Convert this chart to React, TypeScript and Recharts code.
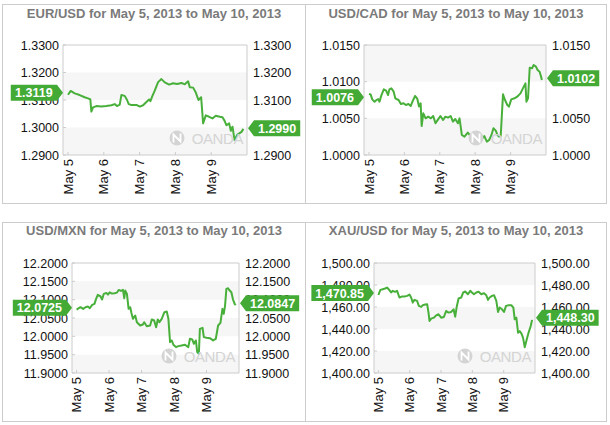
import React from 'react';
import { LineChart, Line, XAxis, YAxis, ReferenceArea, ReferenceDot } from 'recharts';

const FONT = '"Liberation Sans", Arial, Helvetica, sans-serif';
const LINE = '#48b03a';
const BADGE = '#42aa35';
const GRAY_BAND = '#f6f6f6';
const BORDER = '#cccccc';

const dayTicks = [0, 1, 2, 3, 4];
const dayLabels = ['May 5', 'May 6', 'May 7', 'May 8', 'May 9'];
const xDomain = [-0.14, 5.0];

// EUR/USD
const eurTicks = [1.29, 1.3, 1.31, 1.32, 1.33];
const eurT = [0, 0.075, 0.186, 0.326, 0.466, 0.559, 0.624, 0.652, 0.699, 0.792, 0.932, 1.072, 1.212, 1.305, 1.37, 1.445, 1.491, 1.584, 1.65, 1.696, 1.771, 1.911, 2.004, 2.097, 2.19, 2.265, 2.302, 2.358, 2.423, 2.516, 2.61, 2.703, 2.824, 2.936, 3.048, 3.169, 3.262, 3.355, 3.402, 3.495, 3.57, 3.644, 3.719, 3.774, 3.849, 3.942, 4.035, 4.128, 4.24, 4.315, 4.371, 4.427, 4.501, 4.548, 4.595, 4.651, 4.725, 4.846, 4.9];
const eurV = [1.3119, 1.3133, 1.3124, 1.3118, 1.311, 1.3106, 1.3102, 1.3058, 1.3073, 1.3078, 1.3076, 1.3078, 1.3081, 1.3085, 1.3078, 1.3083, 1.3118, 1.3115, 1.31, 1.3085, 1.3082, 1.3082, 1.3076, 1.3081, 1.3093, 1.3102, 1.3096, 1.3115, 1.3134, 1.3165, 1.3176, 1.3164, 1.3156, 1.3161, 1.3158, 1.3162, 1.3157, 1.3168, 1.3146, 1.3145, 1.3127, 1.31, 1.311, 1.3015, 1.3044, 1.3039, 1.3033, 1.3043, 1.3039, 1.3037, 1.3025, 1.3008, 1.3015, 1.2988, 1.3003, 1.2955, 1.2973, 1.2984, 1.2995];
const eurOpen = 1.3119;
const eurLast = 1.299;

// USD/CAD
const cadTicks = [1.0, 1.005, 1.01, 1.015];
const cadT = [0, 0.047, 0.093, 0.158, 0.214, 0.26, 0.298, 0.353, 0.419, 0.484, 0.54, 0.577, 0.633, 0.698, 0.744, 0.837, 0.902, 0.977, 1.042, 1.116, 1.181, 1.228, 1.302, 1.367, 1.414, 1.46, 1.488, 1.535, 1.6, 1.674, 1.749, 1.814, 1.879, 1.953, 2.019, 2.093, 2.158, 2.233, 2.307, 2.372, 2.437, 2.512, 2.558, 2.623, 2.698, 2.791, 2.884, 2.977, 3.051, 3.116, 3.181, 3.256, 3.33, 3.395, 3.46, 3.516, 3.581, 3.628, 3.674, 3.721, 3.786, 3.842, 3.907, 3.953, 4.019, 4.112, 4.186, 4.279, 4.372, 4.419, 4.447, 4.493, 4.54, 4.605, 4.651, 4.716, 4.763, 4.819, 4.856, 4.884];
const cadV = [1.00832, 1.00827, 1.00759, 1.00727, 1.0075, 1.00764, 1.00727, 1.00818, 1.00895, 1.00877, 1.00818, 1.00895, 1.00909, 1.00864, 1.00773, 1.0075, 1.00695, 1.00705, 1.00682, 1.00695, 1.00668, 1.00727, 1.00805, 1.00764, 1.0066, 1.00705, 1.00395, 1.00568, 1.005, 1.00523, 1.005, 1.00532, 1.00432, 1.00486, 1.00532, 1.00477, 1.00523, 1.00509, 1.00532, 1.00455, 1.00491, 1.00432, 1.005, 1.00273, 1.0025, 1.00305, 1.0025, 1.00273, 1.00241, 1.0025, 1.00214, 1.00259, 1.00182, 1.00205, 1.00273, 1.00364, 1.00332, 1.00273, 1.0025, 1.00259, 1.00827, 1.0075, 1.00682, 1.00659, 1.00759, 1.00773, 1.00795, 1.0084, 1.00932, 1.00977, 1.00727, 1.00773, 1.01191, 1.01182, 1.01227, 1.01205, 1.01159, 1.01136, 1.01077, 1.01023];
const cadOpen = 1.0076;
const cadLast = 1.0102;

// USD/MXN
const mxnTicks = [11.9, 11.95, 12.0, 12.05, 12.1, 12.15, 12.2];
const mxnT = [0, 0.071, 0.122, 0.204, 0.276, 0.347, 0.408, 0.48, 0.551, 0.602, 0.653, 0.735, 0.786, 0.837, 0.918, 0.969, 1.02, 1.092, 1.173, 1.245, 1.296, 1.367, 1.429, 1.469, 1.5, 1.551, 1.602, 1.653, 1.684, 1.735, 1.806, 1.857, 1.959, 2.041, 2.082, 2.163, 2.265, 2.316, 2.388, 2.449, 2.5, 2.551, 2.622, 2.704, 2.776, 2.827, 2.878, 2.929, 2.98, 3.061, 3.133, 3.235, 3.337, 3.439, 3.49, 3.561, 3.612, 3.673, 3.714, 3.765, 3.796, 3.878, 3.918, 4.0, 4.102, 4.204, 4.286, 4.357, 4.429, 4.49, 4.531, 4.571, 4.612, 4.663, 4.714, 4.765, 4.816, 4.867, 4.898];
const mxnV = [12.0731, 12.0767, 12.0794, 12.0749, 12.0794, 12.0812, 12.0767, 12.0858, 12.0885, 12.1021, 12.113, 12.1093, 12.1003, 12.1157, 12.1184, 12.1139, 12.1202, 12.1166, 12.1175, 12.1193, 12.1266, 12.1238, 12.1266, 12.1039, 12.1248, 12.1157, 12.0749, 12.0794, 12.0658, 12.0477, 12.0568, 12.0386, 12.0296, 12.0323, 12.0386, 12.0277, 12.0296, 12.0459, 12.0432, 12.025, 12.0459, 12.0386, 12.0477, 12.0658, 12.0676, 12.0477, 11.9842, 11.9888, 11.977, 11.9706, 11.9733, 11.9752, 11.977, 11.9706, 11.9933, 11.9915, 11.9797, 11.9888, 11.957, 11.9525, 12.0205, 12.0232, 11.9978, 11.996, 11.9951, 11.9888, 11.9933, 12.0296, 12.0368, 12.0749, 12.0613, 12.0839, 12.1293, 12.1311, 12.1248, 12.1202, 12.1003, 12.0885, 12.085];
const mxnOpen = 12.0725;
const mxnLast = 12.0847;

// XAU/USD
const xauTicks = [1400, 1420, 1440, 1460, 1480, 1500];
const xauT = [0, 0.064, 0.139, 0.213, 0.277, 0.352, 0.405, 0.459, 0.533, 0.597, 0.672, 0.747, 0.832, 0.917, 0.992, 1.045, 1.099, 1.152, 1.237, 1.291, 1.365, 1.419, 1.493, 1.557, 1.6, 1.632, 1.685, 1.771, 1.845, 1.92, 2.005, 2.091, 2.165, 2.24, 2.325, 2.4, 2.453, 2.496, 2.56, 2.645, 2.709, 2.773, 2.859, 2.933, 2.987, 3.051, 3.125, 3.2, 3.285, 3.371, 3.445, 3.499, 3.552, 3.627, 3.691, 3.765, 3.819, 3.872, 3.947, 4.011, 4.075, 4.16, 4.245, 4.309, 4.352, 4.405, 4.459, 4.512, 4.565, 4.619, 4.672, 4.736, 4.8, 4.864, 4.907];
const xauV = [1470.9, 1475.6, 1476.2, 1476.8, 1477.7, 1475.3, 1473.2, 1474.7, 1473.8, 1474.7, 1468.6, 1469.5, 1469.5, 1470.1, 1471.3, 1468.6, 1464.0, 1466.5, 1465.5, 1461.0, 1460.1, 1461.6, 1462.2, 1462.5, 1454.9, 1447.3, 1449.4, 1450.3, 1452.4, 1453.4, 1450.3, 1450.9, 1456.4, 1454.9, 1455.5, 1457.9, 1451.2, 1459.5, 1467.7, 1468.6, 1473.2, 1474.1, 1471.6, 1474.7, 1473.2, 1471.6, 1473.2, 1473.8, 1471.6, 1472.6, 1470.7, 1466.5, 1468.6, 1470.1, 1470.7, 1465.5, 1455.5, 1459.5, 1457.9, 1455.5, 1461.0, 1461.6, 1461.6, 1459.5, 1448.8, 1450.3, 1436.6, 1438.1, 1436.0, 1432.0, 1423.5, 1430.5, 1437.2, 1442.7, 1448.3];
const xauOpen = 1470.85;
const xauLast = 1448.3;

function fmt4(v: number) {
  return v.toFixed(4);
}
function fmtComma2(v: number) {
  const s = v.toFixed(2);
  const [i, d] = s.split('.');
  return i.replace(/\B(?=(\d{3})+(?!\d))/g, ',') + '.' + d;
}

function textW(s: string, fs: number) {
  let w = 0;
  for (const c of s) w += /[0-9]/.test(c) ? 0.556 : 0.278;
  return w * fs;
}

function Badge(props: any) {
  const { cx, cy, label, side } = props;
  if (cx == null || cy == null) return null;
  const fs = 12.5;
  const w = textW(label, fs) + 8;
  const h = 16;
  const ay = cy - 2;
  const top = ay - h / 2;
  const arrow = 6;
  let d: string;
  let tx: number;
  if (side === 'left') {
    const r = cx - arrow;
    d = `M${r - w},${top} H${r} L${cx},${ay} L${r},${top + h} H${r - w} Z`;
    tx = r - w / 2;
  } else {
    const l = cx + 1 + arrow;
    d = `M${cx + 1},${ay} L${l},${top} H${l + w} V${top + h} H${l} Z`;
    tx = l + w / 2;
  }
  return (
    <g>
      <path d={d} fill={BADGE} />
      <text x={tx} y={ay} dy="0.36em" textAnchor="middle" fill="#fff" fontFamily={FONT} fontWeight="bold" fontSize={fs}>
        {label}
      </text>
    </g>
  );
}

function Watermark(props: any) {
  const { cx, cy } = props;
  if (cx == null || cy == null) return null;
  const c = '#d4d4d4';
  const ox = cx - 70;
  const oy = cy - 17;
  return (
    <g>
      <circle cx={ox} cy={oy} r={7.5} fill={c} />
      <path d={`M${ox - 3.5},${oy + 4.5} V${oy - 3.5} L${ox + 3.5},${oy + 3.5} V${oy - 4.5}`} stroke="#fff" strokeWidth={1.8} fill="none" />
      <text x={cx - 4} y={cy - 11.5} textAnchor="end" fill={c} fontFamily={FONT} fontSize={15} letterSpacing={-0.4}>
        OANDA
      </text>
    </g>
  );
}

type Box = { l: number; t: number; w: number; h: number };
type Plot = { l: number; r: number; t: number; b: number };

function Panel(p: {
  box: Box;
  plot: Plot;
  title: string;
  titleY: number;
  ticks: number[];
  t: number[];
  v: number[];
  open: number;
  last: number;
  fmt: (v: number) => string;
}) {
  const { box, plot, title, titleY, ticks, t, v, open, last, fmt } = p;
  const data = t.map((x, i) => ({ t: x, v: v[i] }));
  const YW = 55;
  const XH = 40;
  const rl = plot.l - box.l;
  const rr = plot.r - box.l;
  const rt = plot.t - box.t;
  const rb = plot.b - box.t;
  const margin = { top: rt, left: rl - YW, right: box.w - rr - YW, bottom: box.h - rb - XH };
  const lo = ticks[0];
  const hi = ticks[ticks.length - 1];
  const bands: number[][] = [];
  for (let i = 0; i < ticks.length - 1; i += 2) bands.push([ticks[i], ticks[i + 1]]);

  const XTick = (props: any) => {
    const { x, y, payload } = props;
    const idx = dayTicks.indexOf(payload.value);
    return (
      <g>
        <line x1={x} x2={x} y1={y - 4} y2={y - 7} stroke={BORDER} />
        <text x={x} y={y} transform={`rotate(-90 ${x} ${y})`} textAnchor="end" dy="0.36em" fill="#111" fontFamily={FONT} fontSize={13}>
          {dayLabels[idx]}
        </text>
      </g>
    );
  };
  const YTickL = (props: any) => {
    const { x, y, payload } = props;
    return (
      <g>
        <line x1={x + 4} x2={x + 7} y1={y} y2={y} stroke={BORDER} />
        <text x={x} y={y} dy="0.36em" textAnchor="end" fill="#111" fontFamily={FONT} fontSize={12.5}>
          {fmt(payload.value)}
        </text>
      </g>
    );
  };
  const YTickR = (props: any) => {
    const { x, y, payload } = props;
    return (
      <text x={x} y={y} dy="0.36em" textAnchor="start" fill="#111" fontFamily={FONT} fontSize={12.5}>
        {fmt(payload.value)}
      </text>
    );
  };

  return (
    <div style={{ position: 'absolute', left: box.l, top: box.t, width: box.w, height: box.h }}>
      <div style={{ position: 'absolute', left: 0, top: 0, width: box.w, height: box.h, border: `1px solid ${BORDER}`, boxSizing: 'border-box' }} />
      <div
        style={{
          position: 'absolute',
          left: 0,
          top: titleY - box.t - 8,
          width: box.w,
          height: 16,
          lineHeight: '16px',
          textAlign: 'center',
          fontFamily: FONT,
          fontWeight: 'bold',
          fontSize: 13,
          color: '#7a7a7a',
          whiteSpace: 'nowrap',
        }}
      >
        {title}
      </div>
      <div style={{ position: 'absolute', left: 0, top: 0 }}>
        <LineChart width={box.w} height={box.h} data={data} margin={margin}>
          <XAxis
            dataKey="t"
            type="number"
            domain={xDomain}
            ticks={dayTicks}
            interval={0}
            allowDataOverflow
            height={XH}
            tickSize={0}
            tickMargin={4}
            axisLine={false}
            tickLine={false}
            tick={XTick}
          />
          <YAxis yAxisId="l" orientation="left" type="number" domain={[lo, hi]} ticks={ticks} interval={0} width={YW} tickSize={0} tickMargin={4} axisLine={false} tickLine={false} tick={YTickL} allowDataOverflow />
          <YAxis yAxisId="r" orientation="right" type="number" domain={[lo, hi]} ticks={ticks} interval={0} width={YW} tickSize={0} tickMargin={6} axisLine={false} tickLine={false} tick={YTickR} allowDataOverflow />
          {bands.map((b, i) => (
            <ReferenceArea key={i} yAxisId="l" x1={xDomain[0]} x2={xDomain[1]} y1={b[0]} y2={b[1]} fill={GRAY_BAND} fillOpacity={1} stroke="none" ifOverflow="visible" />
          ))}
          <ReferenceArea yAxisId="l" x1={xDomain[0]} x2={xDomain[1]} y1={lo} y2={hi} fill="none" stroke={BORDER} ifOverflow="visible" />
          <ReferenceDot yAxisId="l" x={xDomain[1]} y={lo} r={0} ifOverflow="visible" shape={(sp: any) => <Watermark {...sp} />} />
          <Line yAxisId="l" type="linear" dataKey="v" stroke={LINE} strokeWidth={2} dot={false} isAnimationActive={false} strokeLinejoin="round" />
        </LineChart>
      </div>
      <div style={{ position: 'absolute', left: 0, top: 0 }}>
        <LineChart width={box.w} height={box.h} data={data} margin={margin}>
          <XAxis dataKey="t" type="number" domain={xDomain} ticks={dayTicks} allowDataOverflow height={XH} tick={false} tickLine={false} axisLine={false} />
          <YAxis yAxisId="l" orientation="left" type="number" domain={[lo, hi]} ticks={ticks} width={YW} tick={false} tickLine={false} axisLine={false} allowDataOverflow />
          <YAxis yAxisId="r" orientation="right" type="number" domain={[lo, hi]} ticks={ticks} width={YW} tick={false} tickLine={false} axisLine={false} allowDataOverflow />
          <ReferenceDot yAxisId="l" x={xDomain[0]} y={open} r={0} ifOverflow="visible" shape={(sp: any) => <Badge {...sp} label={fmt(open)} side="left" />} />
          <ReferenceDot yAxisId="l" x={xDomain[1]} y={last} r={0} ifOverflow="visible" shape={(sp: any) => <Badge {...sp} label={fmt(last)} side="right" />} />
        </LineChart>
      </div>
    </div>
  );
}

export default function App() {
  return (
    <div style={{ position: 'absolute', left: 0, top: 0, width: 610, height: 425, background: '#fff', overflow: 'hidden' }}>
      <Panel
        box={{ l: 2, t: 4, w: 304, h: 200 }}
        plot={{ l: 63, r: 247, t: 45, b: 155 }}
        title="EUR/USD for May 5, 2013 to May 10, 2013"
        titleY={13.5}
        ticks={eurTicks}
        t={eurT}
        v={eurV}
        open={eurOpen}
        last={eurLast}
        fmt={fmt4}
      />
      <Panel
        box={{ l: 305, t: 4, w: 302, h: 200 }}
        plot={{ l: 364, r: 546, t: 45, b: 155 }}
        title="USD/CAD for May 5, 2013 to May 10, 2013"
        titleY={13.5}
        ticks={cadTicks}
        t={cadT}
        v={cadV}
        open={cadOpen}
        last={cadLast}
        fmt={fmt4}
      />
      <Panel
        box={{ l: 2, t: 222, w: 304, h: 200 }}
        plot={{ l: 72, r: 239, t: 263, b: 373 }}
        title="USD/MXN for May 5, 2013 to May 10, 2013"
        titleY={230.5}
        ticks={mxnTicks}
        t={mxnT}
        v={mxnV}
        open={mxnOpen}
        last={mxnLast}
        fmt={fmt4}
      />
      <Panel
        box={{ l: 305, t: 222, w: 302, h: 200 }}
        plot={{ l: 374, r: 535, t: 263, b: 373 }}
        title="XAU/USD for May 5, 2013 to May 10, 2013"
        titleY={230.5}
        ticks={xauTicks}
        t={xauT}
        v={xauV}
        open={xauOpen}
        last={xauLast}
        fmt={fmtComma2}
      />
    </div>
  );
}
